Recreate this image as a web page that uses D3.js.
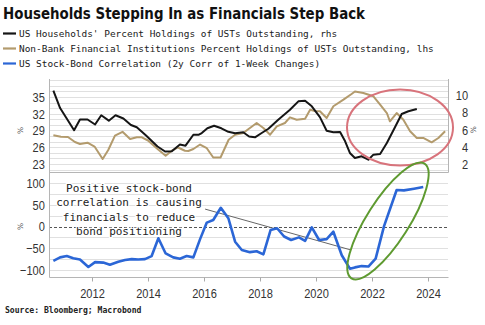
<!DOCTYPE html>
<html>
<head>
<meta charset="utf-8">
<script src="https://cdn.jsdelivr.net/npm/d3@7"></script>
<style>
  body { margin: 0; background: #fff; }
  svg { display: block; }
</style>
</head>
<body>
<svg id="chart" width="485" height="325"></svg>
<script>
// ---- data (decimal year, value) ----
const householdsPct = [
  [2010.62,10.56],[2010.86,8.54],[2011.36,5.95],[2011.57,7.20],[2011.84,7.20],[2012.11,6.61],
  [2012.33,7.69],[2012.60,7.06],[2012.84,7.69],[2013.12,7.32],[2013.39,6.56],[2013.60,6.29],
  [2013.93,5.33],[2014.34,4.04],[2014.61,3.46],[2014.85,3.50],[2015.14,4.28],[2015.34,4.14],
  [2015.62,5.42],[2015.80,5.41],[2015.92,5.62],[2016.12,6.18],[2016.36,6.47],[2016.62,6.17],
  [2016.87,5.76],[2017.11,5.60],[2017.40,5.71],[2017.61,5.21],[2017.82,5.12],[2018.06,5.62],
  [2018.30,6.12],[2018.65,7.18],[2019.07,8.34],[2019.37,9.32],[2019.61,9.39],[2019.85,8.74],
  [2020.14,7.47],[2020.38,5.89],[2020.62,5.70],[2020.86,5.74],[2021.04,4.65],[2021.21,3.29],
  [2021.39,2.70],[2021.63,2.90],[2021.87,2.50],[2022.05,3.09],[2022.29,3.17],[2022.53,4.45],
  [2022.82,6.29],[2023.06,7.84],[2023.30,8.16],[2023.60,8.43]
];
const nonBankPct = [
  [2010.62,28.14],[2010.89,27.87],[2011.14,27.84],[2011.39,26.94],[2011.57,26.58],[2011.84,26.82],
  [2012.09,26.13],[2012.38,23.90],[2012.58,25.51],[2012.82,28.07],[2013.09,28.77],[2013.36,27.48],
  [2013.60,27.78],[2013.78,27.78],[2014.00,27.21],[2014.31,25.83],[2014.63,24.49],[2014.85,25.38],
  [2015.07,25.96],[2015.32,25.38],[2015.44,25.33],[2015.62,25.69],[2015.86,26.49],[2016.10,25.83],
  [2016.33,24.16],[2016.59,24.16],[2016.88,27.35],[2017.11,28.25],[2017.40,28.55],[2017.64,29.45],
  [2017.88,30.34],[2018.12,29.45],[2018.36,28.25],[2018.60,29.75],[2018.89,30.34],[2019.07,31.36],
  [2019.31,30.93],[2019.61,31.11],[2019.79,32.73],[2019.96,32.49],[2020.14,32.44],[2020.38,31.24],
  [2020.62,33.34],[2020.98,34.52],[2021.27,35.54],[2021.39,35.99],[2021.69,35.72],[2022.05,35.13],
  [2022.29,33.62],[2022.53,32.13],[2022.64,30.65],[2022.88,32.13],[2023.12,30.93],[2023.36,28.86],
  [2023.60,27.66],[2023.83,27.66],[2024.13,26.89],[2024.37,27.66],[2024.61,28.86]
];
const stockBondCorr = [
  [2010.62,-79],[2010.86,-71],[2011.10,-68],[2011.33,-73],[2011.57,-76],[2011.87,-93],
  [2012.11,-82],[2012.40,-83],[2012.64,-88],[2012.94,-81],[2013.18,-77],[2013.42,-75],
  [2013.65,-76],[2013.89,-75],[2014.13,-68],[2014.37,-27],[2014.63,-62],[2014.90,-71],
  [2015.14,-74],[2015.38,-68],[2015.62,-71],[2015.86,-29],[2016.10,9],[2016.33,15],
  [2016.60,43],[2016.87,19],[2017.11,-35],[2017.35,-54],[2017.64,-59],[2017.88,-57],
  [2018.12,-64],[2018.38,-8],[2018.61,-4],[2018.86,-23],[2019.11,-31],[2019.39,-25],
  [2019.61,-33],[2019.85,-2],[2020.11,-31],[2020.38,-29],[2020.62,-12],[2020.92,-66],
  [2021.21,-97],[2021.39,-94],[2021.63,-91],[2021.87,-92],[2022.13,-74],[2022.43,1],
  [2022.88,84],[2023.14,83],[2023.50,87],[2023.83,91]
];

const xTicks = [2012, 2014, 2016, 2018, 2020, 2022, 2024];
const leftTicks = [23, 26, 29, 32, 35];
const rightTicks = [2, 4, 6, 8, 10];
const corrTicks = [-100, -50, 0, 50, 100];
const corrGrid = [-100, -75, -50, -25, 25, 50, 75, 100];

const titleText = "Households Stepping In as Financials Step Back";
const legendItems = [
  { label: "US Households' Percent Holdings of USTs Outstanding, rhs", color: "#151515" },
  { label: "Non-Bank Financial Institutions Percent Holdings of USTs Outstanding, lhs", color: "#b39b6d" },
  { label: "US Stock-Bond Correlation (2y Corr of 1-Week Changes)", color: "#2b66d6" }
];
const noteLines = ["Positive stock-bond", "correlation is causing", "financials to reduce", "bond positioning"];
const sourceText = "Source: Bloomberg; Macrobond";

// ---- layout ----
const L = 49, R = 448, T1 = 79, B1 = 172, B2 = 277;
const svg = d3.select("#chart");

const x = d3.scaleLinear().domain([2010.464, 2024.714]).range([L, R]);
const yL = d3.scaleLinear().domain([21.57, 38.22]).range([B1, T1]);
const yR = d3.scaleLinear().domain([1.065, 11.93]).range([B1, T1]);
const yB = d3.scaleLinear().domain([-116.1, 125.3]).range([B2, B1]);

// ---- title & legend ----
svg.append("text").attr("x", 3).attr("y", 19)
  .attr("font-family", "DejaVu Sans, Verdana, sans-serif").attr("font-weight", "bold")
  .attr("font-size", 15).attr("fill", "#111")
  .attr("textLength", 362).attr("lengthAdjust", "spacingAndGlyphs")
  .text(titleText);

const legend = svg.append("g");
legendItems.forEach((d, i) => {
  const yy = 33.5 + i * 15;
  legend.append("line").attr("x1", 3).attr("x2", 16).attr("y1", yy).attr("y2", yy)
    .attr("stroke", d.color).attr("stroke-width", 2.2);
  legend.append("text").attr("x", 19).attr("y", yy + 3.4)
    .attr("font-family", "DejaVu Sans Mono, monospace").attr("font-size", 9.45)
    .attr("fill", "#1a1a1a").text(d.label);
});

// ---- gridlines ----
const grid = svg.append("g").attr("stroke", "#e0e0e0").attr("stroke-width", 1);
grid.selectAll("line.t").data(d3.range(22, 39)).join("line")
  .attr("x1", L).attr("x2", R)
  .attr("y1", d => Math.round(yL(d)) + 0.5).attr("y2", d => Math.round(yL(d)) + 0.5);
grid.selectAll("line.b").data(corrGrid).join("line")
  .attr("x1", L).attr("x2", R)
  .attr("y1", d => Math.round(yB(d)) + 0.5).attr("y2", d => Math.round(yB(d)) + 0.5);

svg.append("line").attr("x1", L).attr("x2", R)
  .attr("y1", Math.round(yB(0)) + 0.5).attr("y2", Math.round(yB(0)) + 0.5)
  .attr("stroke", "#555").attr("stroke-width", 1).attr("stroke-dasharray", "3,2");

// ---- frames ----
const frame = svg.append("g").attr("stroke", "#b5b5b5").attr("stroke-width", 1).attr("fill", "none");
frame.append("path").attr("d", `M${L + 0.5},${T1}V${B1 + 0.5}H${R + 0.5}V${T1}`);
frame.append("path").attr("d", `M${L + 0.5},${B1}V${B2 + 0.5}H${R + 0.5}`);

// ---- axes ----
const tickFont = g => g.selectAll("text")
  .attr("font-family", "Liberation Sans, Arial, sans-serif").attr("font-size", 13.5)
  .attr("fill", "#333").attr("transform", "scale(0.82,1)");

svg.append("g").attr("transform", `translate(${L},0)`)
  .call(d3.axisLeft(yL).tickValues(leftTicks).tickSize(0).tickPadding(5))
  .call(g => g.select(".domain").remove()).call(tickFont);

svg.append("g").attr("transform", `translate(${R},0)`)
  .call(d3.axisRight(yR).tickValues(rightTicks).tickSize(0).tickPadding(0))
  .call(g => g.select(".domain").remove()).call(tickFont)
  .call(g => g.selectAll("text").attr("text-anchor", "end").attr("x", 24.5));

svg.append("g").attr("transform", `translate(${L},0)`)
  .call(d3.axisLeft(yB).tickValues(corrTicks).tickSize(0).tickPadding(5))
  .call(g => g.select(".domain").remove()).call(tickFont);

svg.append("g").attr("transform", `translate(0,${B2 + 0.5})`)
  .call(d3.axisBottom(x).tickValues(xTicks).tickFormat(d3.format("d")).tickSize(4).tickPadding(7))
  .call(g => g.select(".domain").remove())
  .call(g => g.selectAll("line").attr("stroke", "#aaa"))
  .call(tickFont);

// unit markers
[[20, yL(29)], [20, yB(0)], [473, yR(6)]].forEach(([px, py]) => {
  svg.append("text").attr("transform", `translate(${px},${py}) rotate(-90)`)
    .attr("text-anchor", "middle").attr("dy", "0.35em")
    .attr("font-family", "DejaVu Sans, sans-serif").attr("font-size", 7.5)
    .attr("fill", "#555").text("%");
});

// ---- series ----
const lineR = d3.line().x(d => x(d[0])).y(d => yR(d[1]));
const lineL = d3.line().x(d => x(d[0])).y(d => yL(d[1]));
const lineB = d3.line().x(d => x(d[0])).y(d => yB(d[1]));

svg.append("path").datum(nonBankPct).attr("d", lineL)
  .attr("fill", "none").attr("stroke", "#b39b6d").attr("stroke-width", 2).attr("stroke-linejoin", "round");
svg.append("path").datum(householdsPct).attr("d", lineR)
  .attr("fill", "none").attr("stroke", "#151515").attr("stroke-width", 2).attr("stroke-linejoin", "round");

// annotation pointer
svg.append("line")
  .attr("x1", x(2016.04)).attr("y1", yB(40))
  .attr("x2", x(2021.25)).attr("y2", yB(-54))
  .attr("stroke", "#666").attr("stroke-width", 1);

svg.append("path").datum(stockBondCorr).attr("d", lineB)
  .attr("fill", "none").attr("stroke", "#2b66d6").attr("stroke-width", 2.6).attr("stroke-linejoin", "round");

// annotation text
const note = svg.append("text").attr("font-family", "DejaVu Sans Mono, monospace")
  .attr("font-size", 11).attr("fill", "#222").attr("text-anchor", "middle")
  .attr("stroke", "#fff").attr("stroke-width", 2.5).attr("paint-order", "stroke");
noteLines.forEach((t, i) => {
  note.append("tspan").attr("x", 129).attr("y", 192 + i * 14.4).text(t);
});

// highlight rings
svg.append("ellipse")
  .attr("cx", x(2023.0)).attr("cy", yL(29.54)).attr("rx", 53).attr("ry", 38)
  .attr("fill", "none").attr("stroke", "#d8737b").attr("stroke-width", 2);

const gcx = x(2022.57), gcy = yB(12.6);
svg.append("ellipse")
  .attr("cx", gcx).attr("cy", gcy).attr("rx", 68).attr("ry", 21)
  .attr("transform", `rotate(-57.5,${gcx},${gcy})`)
  .attr("fill", "none").attr("stroke", "#5e9a30").attr("stroke-width", 2);

// source
svg.append("text").attr("x", 5).attr("y", 313)
  .attr("font-family", "DejaVu Sans Mono, monospace").attr("font-weight", "bold")
  .attr("font-size", 8.1).attr("fill", "#222").text(sourceText);
</script>
</body>
</html>
